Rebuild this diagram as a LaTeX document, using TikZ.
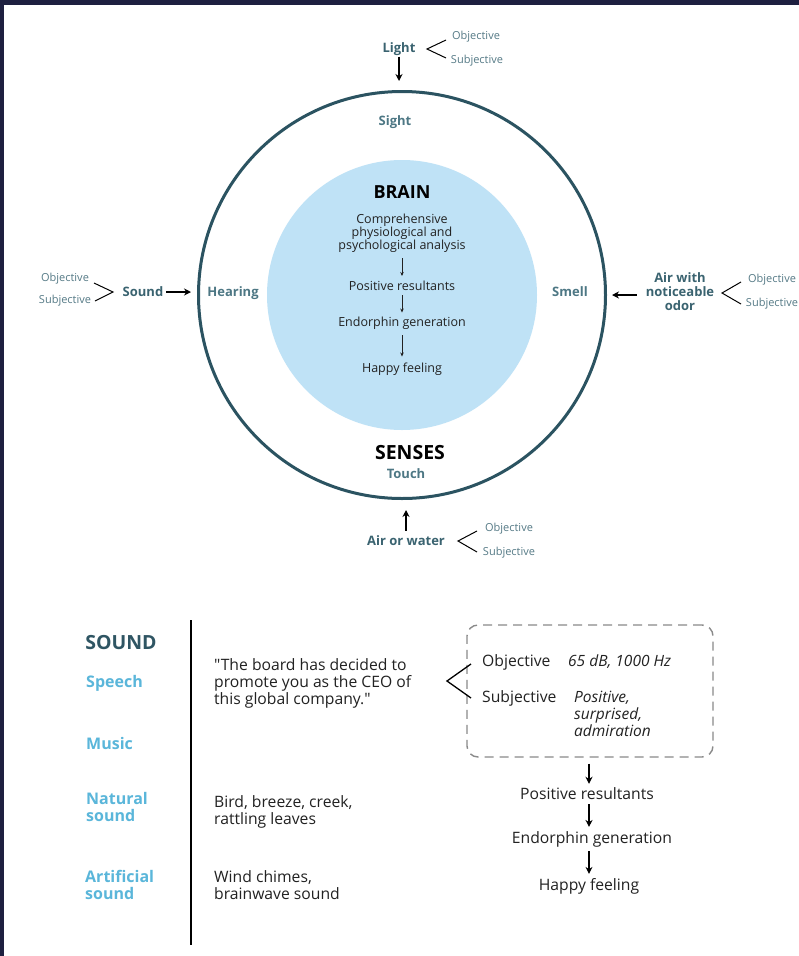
\documentclass[tikz,border=0pt]{standalone}
\usepackage{fontspec}
\setmainfont{Open Sans}[Ligatures=TeXOff]
\usetikzlibrary{arrows.meta}
\definecolor{band}{HTML}{1E2040}
\definecolor{ring}{HTML}{2B5361}
\definecolor{tealtx}{HTML}{3A6370}
\definecolor{senselbl}{HTML}{4D7784}
\definecolor{smalltx}{HTML}{557A86}
\definecolor{brainfill}{HTML}{BFE2F6}
\definecolor{soundhd}{HTML}{2F5563}
\definecolor{cat}{HTML}{5AB6DA}
\definecolor{dashgray}{HTML}{8A8A8A}
\definecolor{body}{HTML}{222222}
\tikzset{
  inlbl/.style={text=tealtx, font=\fontsize{13}{14}\selectfont\bfseries, inner sep=1pt, align=center},
  sense/.style={text=senselbl, font=\fontsize{13}{14}\selectfont\bfseries, inner sep=1pt},
  tiny/.style={text=smalltx, font=\fontsize{11}{12}\selectfont, inner sep=1pt},
  braintx/.style={text=body, font=\fontsize{12.5}{13}\selectfont, align=center, inner sep=1pt},
  bigblack/.style={text=black, font=\fontsize{18}{19}\selectfont\bfseries, inner sep=1pt},
  cattx/.style={text=cat, font=\fontsize{16}{16.5}\selectfont\bfseries, align=left, inner sep=1pt},
  bodytx/.style={text=body, font=\fontsize{15.7}{17}\selectfont, align=left, inner sep=1pt},
  arr/.style={draw=black, line width=1.4pt, -{Stealth[length=7pt,width=7pt]}},
  smallarr/.style={draw=body, line width=0.8pt, -{Stealth[length=4pt,width=3.5pt]}},
  brace/.style={draw=black, line width=1pt},
}
\begin{document}
\begin{tikzpicture}[x=1pt,y=-1pt]
\useasboundingbox (0,0) rectangle (799,956);
\fill[band] (0,0) rectangle (799,956);
\fill[white] (4,5) rectangle (799,956);

% circles
\node[circle, fill=brainfill, minimum size=270pt, inner sep=0pt] (brainc) at (402,295) {};
\node[circle, draw=ring, line width=3pt, minimum size=407pt, inner sep=0pt] (ring) at (402,295) {};

% top: light
\node[inlbl] (light) at (399,49) {Light};
\node[tiny] (lobj) at (476,37) {Objective};
\node[tiny] (lsub) at (477,61) {Subjective};
\coordinate (lv) at (427,49);
\coordinate (la) at (446,40);
\coordinate (lb) at (446,58);
\draw[brace] (la) -- (lv) -- (lb);
\draw[arr, shorten >=9pt] (light.south) -- (light.south |- ring.north);

% left: sound
\node[tiny] (sobj) at (65,279) {Objective};
\node[tiny] (ssub) at (65,301) {Subjective};
\node[inlbl] (sound) at (143,292) {Sound};
\coordinate (sv) at (113,292);
\coordinate (sa) at (94,283);
\coordinate (sb) at (95,301);
\draw[brace] (sa) -- (sv) -- (sb);
\draw[arr, shorten <=2pt, shorten >=6pt] (sound.east) -- (sound.east -| ring.west);

% right: air with odor
\node[inlbl] (odor) at (680,292) {Air with\\noticeable\\odor};
\node[tiny] (oobj) at (772,280) {Objective};
\node[tiny] (osub) at (772,304) {Subjective};
\coordinate (ov) at (722,293);
\coordinate (oa) at (741,282);
\coordinate (ob) at (741,304);
\draw[brace] (oa) -- (ov) -- (ob);
\draw[arr, shorten <=8pt, shorten >=5pt] (odor.west |- ring.east) -- (ring.east);

% bottom: air or water
\node[inlbl] (water) at (406,541) {Air or water};
\node[tiny] (wobj) at (509,529) {Objective};
\node[tiny] (wsub) at (509,553) {Subjective};
\coordinate (wv) at (458,541);
\coordinate (wa) at (477,531);
\coordinate (wb) at (477,552);
\draw[brace] (wa) -- (wv) -- (wb);
\draw[arr, shorten <=4pt, shorten >=10pt] (water.north) -- (water.north |- ring.south);

% sense labels
\node[sense] (sight) at (395,122) {Sight};
\node[sense] (hearing) at (233,293) {Hearing};
\node[sense] (smell) at (570,292) {Smell};
\node[bigblack, font=\fontsize{19.5}{21}\selectfont\bfseries] (senses) at (410,453) {SENSES};
\node[sense] (touch) at (406,474) {Touch};

% brain
\node[bigblack] (brain) at (402,192) {BRAIN};
\node[braintx] (comp) at (402,233) {Comprehensive\\physiological and\\psychological analysis};
\node[braintx] (posres) at (402,286) {Positive resultants};
\node[braintx] (endo) at (402,323) {Endorphin generation};
\node[braintx] (happy) at (402,369) {Happy feeling};
\draw[smallarr, shorten <=5pt, shorten >=4pt] (comp.south) -- (posres.north);
\draw[smallarr, shorten <=3pt, shorten >=3pt] (posres.south) -- (endo.north);
\draw[smallarr, shorten <=5pt, shorten >=5pt] (endo.south) -- (happy.north);

% bottom section
\node[text=soundhd, font=\fontsize{19.5}{21}\selectfont\bfseries, inner sep=1pt] (soundhd) at (121,643) {SOUND};
\node[cattx, anchor=west] (speech) at (85,683) {Speech};
\node[cattx, anchor=west] (music) at (85,743) {Music};
\node[cattx, anchor=west] (natural) at (85,807) {Natural\\sound};
\node[cattx, anchor=west] (artif) at (84,885) {Artificial\\sound};
\coordinate (vtop) at (191,620);
\coordinate (vbot) at (191,945);
\draw[black, line width=2.2pt] (vtop) -- (vbot);

\node[bodytx, anchor=west] (quote) at (213,683) {"The board has decided to\\promote you as the CEO of\\this global company."};
\node[bodytx, anchor=west] (bird) at (213,812) {Bird, breeze, creek,\\rattling leaves};
\node[bodytx, anchor=west] (wind) at (213,885) {Wind chimes,\\brainwave sound};

\node[draw=dashgray, line width=1.4pt, dash pattern=on 9pt off 6pt, rounded corners=11pt, minimum width=246pt, minimum height=132pt, inner sep=0pt] (box) at (590,691) {};
\node[bodytx, anchor=west] (bobj) at (481,662) {Objective};
\node[bodytx, anchor=west, font=\fontsize{15.5}{17}\selectfont\itshape] (bval) at (567,662) {65 dB, 1000 Hz};
\node[bodytx, anchor=west] (bsub) at (481,698) {Subjective};
\node[bodytx, anchor=north west, font=\fontsize{15.5}{16.8}\selectfont\itshape] (bsval) at (573,690) {Positive,\\surprised,\\admiration};
\coordinate (bv) at (447,681);
\coordinate (ba) at (471,664);
\coordinate (bb) at (471,698);
\draw[brace, line width=1.3pt] (ba) -- (bv) -- (bb);

\node[bodytx] (posres2) at (587,794) {Positive resultants};
\node[bodytx] (endo2) at (592,839) {Endorphin generation};
\node[bodytx] (happy2) at (589,886) {Happy feeling};
\draw[arr, shorten <=6pt, shorten >=3pt] (box.south -| happy2.north) -- (happy2.north |- posres2.north);
\draw[arr, shorten <=3pt, shorten >=3pt] (happy2.north |- posres2.south) -- (happy2.north |- endo2.north);
\draw[arr, shorten <=3pt, shorten >=3pt] (happy2.north |- endo2.south) -- (happy2.north);
\end{tikzpicture}
\end{document}
